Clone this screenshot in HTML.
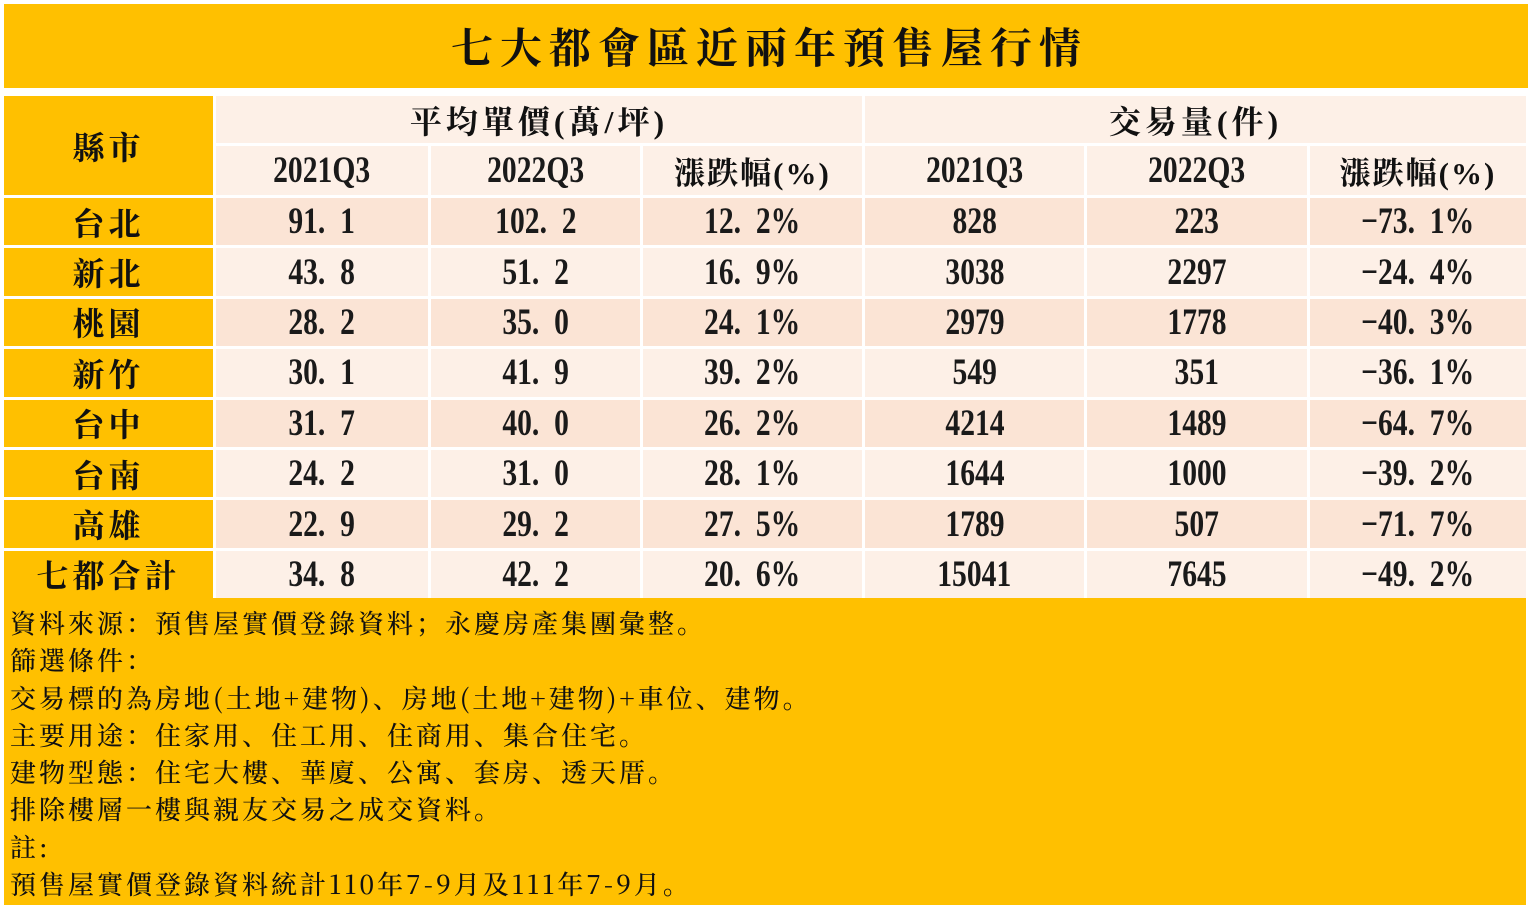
<!DOCTYPE html>
<html><head><meta charset="utf-8"><style>
body{margin:0;width:1536px;height:920px;background:#fff;position:relative;overflow:hidden;font-family:"Liberation Serif","Noto Serif CJK SC",serif;color:#111}
.c{position:absolute;display:flex;align-items:center;justify-content:center;box-sizing:border-box}
.y{background:#ffc000;font-weight:bold;font-size:32px;letter-spacing:4px}
.d{background:#fbe4d5}.l{background:#fdf0e7}
.n span{display:inline-block;font-size:37px;transform:scaleX(0.8);font-weight:bold;color:#1a1a1a}
#foot{position:absolute;left:4px;top:598px;width:1522px;height:307px;background:#ffc000;font-size:26px;line-height:37.3px;padding:6px 0 0 6px;box-sizing:border-box;letter-spacing:3px;font-family:"Noto Serif CJK SC",serif;font-weight:500}
</style></head><body>
<div class="c" style="left:4px;top:4px;width:1524px;height:84px;background:#ffc000;font-size:42px;font-weight:bold;letter-spacing:7px;padding-left:7px">七大都會區近兩年預售屋行情</div>
<div id="t"></div>
<div id="foot">資料來源：預售屋實價登錄資料；永慶房產集團彙整。<br>篩選條件：<br>交易標的為房地(土地+建物)、房地(土地+建物)+車位、建物。<br>主要用途：住家用、住工用、住商用、集合住宅。<br>建物型態：住宅大樓、華廈、公寓、套房、透天厝。<br>排除樓層一樓與親友交易之成交資料。<br>註:<br>預售屋實價登錄資料統計110年7-9月及111年7-9月。</div>
<script>
const X=[4,213,428,640,862,1084,1307,1526];
let h='';
function cell(x0,x1,y0,y1,cls,txt,st){st=st||'';h+=`<div class="c ${cls}" style="left:${x0+(x0>4?3:0)}px;top:${y0+3}px;width:${x1-x0-(x0>4?3:0)}px;height:${y1-y0-3}px;${st}">${txt}</div>`;}
cell(4,213,93,195,'y','縣市');
cell(213,862,93,143,'l','平均單價(萬/坪)','font-size:32px;font-weight:bold;letter-spacing:4px');
cell(862,1526,93,143,'l','交易量(件)','font-size:32px;font-weight:bold;letter-spacing:4px');
const hd=['2021Q3','2022Q3','漲跌幅(%)','2021Q3','2022Q3','漲跌幅(%)'];
hd.forEach((t,i)=>{ if(i%3==2) cell(X[i+1],X[i+2],143,195,'l',t,'font-size:31px;font-weight:bold;letter-spacing:2px'); else cell(X[i+1],X[i+2],143,195,'l n','<span>'+t+'</span>');});
const rows=[['台北','91.1','102.2','12.2%','828','223','−73.1%'],['新北','43.8','51.2','16.9%','3038','2297','−24.4%'],['桃園','28.2','35.0','24.1%','2979','1778','−40.3%'],['新竹','30.1','41.9','39.2%','549','351','−36.1%'],['台中','31.7','40.0','26.2%','4214','1489','−64.7%'],['台南','24.2','31.0','28.1%','1644','1000','−39.2%'],['高雄','22.9','29.2','27.5%','1789','507','−71.7%'],['七都合計','34.8','42.2','20.6%','15041','7645','−49.2%']];
rows.forEach((r,k)=>{const y0=195+k*50.4,y1=y0+50.4;
cell(4,213,y0,y1,'y',r[0]);
for(let i=1;i<7;i++){let t=r[i].replace('.','.&nbsp; ');cell(X[i],X[i+1],y0,y1,(k%2==0?'d':'l')+' n','<span>'+t+'</span>');}
});
document.getElementById('t').innerHTML=h;
</script>
</body></html>
